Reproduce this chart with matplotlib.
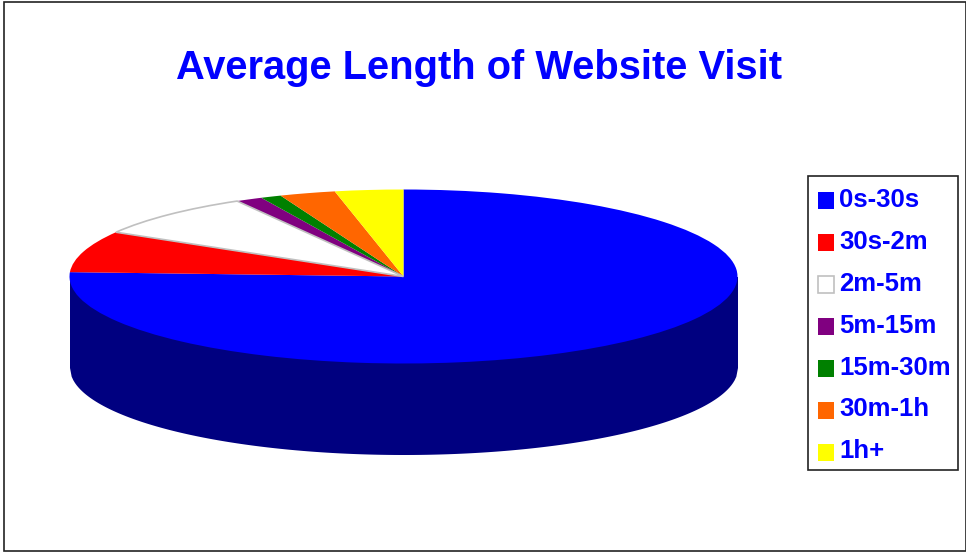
import numpy as np
import matplotlib
matplotlib.use('Agg')
import matplotlib.pyplot as plt
from matplotlib.patches import Patch, Rectangle

labels = ['0s-30s', '30s-2m', '2m-5m', '5m-15m', '15m-30m', '30m-1h', '1h+']
shares = [75.8, 7.7, 8.2, 1.3, 1.0, 2.7, 3.3]
colors = ['#0000ff', '#ff0000', '#ffffff', '#800080', '#008000', '#ff6600', '#ffff00']

W, H = 966, 552
CX, CY = 403.5, 276.5  # pie centre in pixels
RX, RY = 334, 87
DEPTH = 91 / RY

plt.rcParams['font.family'] = ['Liberation Sans', 'DejaVu Sans']

fig = plt.figure(figsize=(W / 100, H / 100), dpi=100, facecolor='white')
ax = fig.add_axes([0, 0, 1, 1])

wedges, _ = ax.pie(shares, colors=colors, startangle=90, counterclock=False,
                   wedgeprops={'linewidth': 0})
wedges[2].set_edgecolor('#c0c0c0')
wedges[2].set_linewidth(1.2)
wedges[2].set_zorder(wedges[0].get_zorder() + 0.5)

# squash the pie into a tilted disc
ax.set_aspect('auto')
ax.set_xlim(-CX / RX, (W - CX) / RX)
ax.set_ylim((CY - H) / RY, CY / RY)

# side wall, starts under the disc so no white seam shows along the rim
x = np.linspace(-1, 1, 400)
rim = -np.sqrt(1 - x ** 2)
ax.fill_between(x, 0, rim - DEPTH, color='#000080', linewidth=0, zorder=0)

fig.text(478.5 / W, 1 - 68 / H, 'Average Length of Website Visit', color='#0000ff',
         fontsize=28.7, fontweight='bold', ha='center', va='center')

# outer frame and legend box
fig.add_artist(Rectangle((3.5 / W, 1 - 551 / H), 962 / W, 549.5 / H, transform=fig.transFigure,
                         fill=False, edgecolor='#222222', linewidth=1.2))
fig.add_artist(Rectangle((807.5 / W, 1 - 470 / H), 150 / W, 294 / H, transform=fig.transFigure,
                         fill=False, edgecolor='#222222', linewidth=1.2))

handles = []
for color in colors:
    if color == '#ffffff':
        handles.append(Patch(facecolor='white', edgecolor='#c0c0c0', linewidth=1.2))
    else:
        handles.append(Patch(facecolor=color, edgecolor='none'))

leg = ax.legend(handles, labels, loc='upper left',
                bbox_to_anchor=(806.5 / W, 1 - 176 / H),
                bbox_transform=fig.transFigure, borderaxespad=0,
                labelcolor='#0000ff', prop={'weight': 'bold', 'size': 18.5},
                handlelength=0.62, handleheight=0.62, handletextpad=0.2,
                labelspacing=0.70, borderpad=0.45, frameon=False)

# swatches sit a little lower than the text centre
for patch in leg.legend_handles:
    patch.set_y(patch.get_y() - 2.16)

fig.savefig('out.png', dpi=100)
plt.close(fig)
